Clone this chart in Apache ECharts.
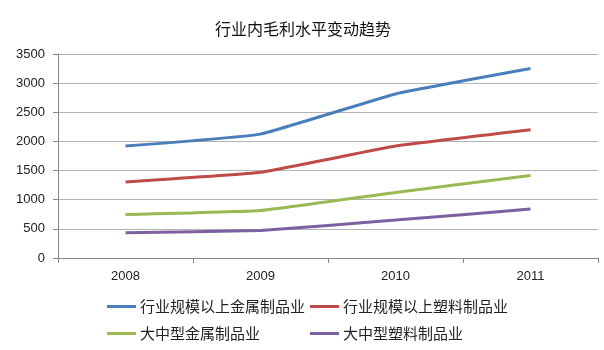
<!DOCTYPE html>
<html>
<head>
<meta charset="utf-8">
<script src="https://cdn.jsdelivr.net/npm/echarts@6/dist/echarts.min.js"></script>
<style>html,body{margin:0;padding:0;background:#fff}#c{width:604px;height:350px}</style>
</head>
<body>
<div id="c"></div>
<script>
const title = '行业内毛利水平变动趋势';
const categories = ['2008', '2009', '2010', '2011'];
const seriesNames = ['行业规模以上金属制品业', '行业规模以上塑料制品业', '大中型金属制品业', '大中型塑料制品业'];
const metalAll = [1920, 2125, 2815, 3250];
const plasticAll = [1305, 1470, 1920, 2200];
const metalLarge = [745, 815, 1125, 1415];
const plasticLarge = [435, 470, 650, 840];
const yTicks = [0, 500, 1000, 1500, 2000, 2500, 3000, 3500];

const colors = ['#4A7EBB', '#BE4B48', '#98B954', '#7D60A0'];
const values = [metalAll, plasticAll, metalLarge, plasticLarge];
const font = '"Noto Sans CJK SC", "Liberation Sans", sans-serif';

const legendPos = [[107, 299], [310, 299], [107, 326], [310, 326]];
const legends = seriesNames.map((n, i) => ({
  data: [n], left: legendPos[i][0], top: legendPos[i][1],
  icon: 'rect', itemWidth: 29, itemHeight: 3, itemGap: 0,
  textStyle: {fontSize: 15, color: '#222', fontFamily: font, padding: [0, 0, 0, -1]},
  padding: 0
}));

const chart = echarts.init(document.getElementById('c'), null, {renderer: 'canvas'});
chart.setOption({
  animation: false,
  title: {text: title, left: 298, textAlign: 'center', top: 16,
    textStyle: {fontSize: 16, fontWeight: 'normal', color: '#111', fontFamily: font}},
  legend: legends,
  grid: {left: 58, right: 6, top: 54, bottom: 92},
  xAxis: {
    type: 'category', data: categories, boundaryGap: true,
    axisLine: {lineStyle: {color: '#888', width: 1}},
    axisTick: {show: true, length: 5, lineStyle: {color: '#888'}},
    axisLabel: {fontSize: 13, color: '#222', margin: 12, fontFamily: '"Liberation Sans", sans-serif'}
  },
  yAxis: {
    type: 'value', min: yTicks[0], max: yTicks[yTicks.length - 1], interval: 500,
    axisLine: {show: true, lineStyle: {color: '#888', width: 1}},
    axisTick: {show: true, length: 5, lineStyle: {color: '#888'}},
    splitLine: {lineStyle: {color: '#b4b4b4', width: 1}},
    axisLabel: {fontSize: 13, color: '#222', margin: 13, fontFamily: '"Liberation Sans", sans-serif',
      formatter: v => String(v)}
  },
  series: seriesNames.map((n, i) => ({
    name: n, type: 'line', data: values[i], showSymbol: false, symbol: 'none',
    smooth: 0.1,
    lineStyle: {color: colors[i], width: 3},
    itemStyle: {color: colors[i]}
  }))
});
</script>
</body>
</html>
